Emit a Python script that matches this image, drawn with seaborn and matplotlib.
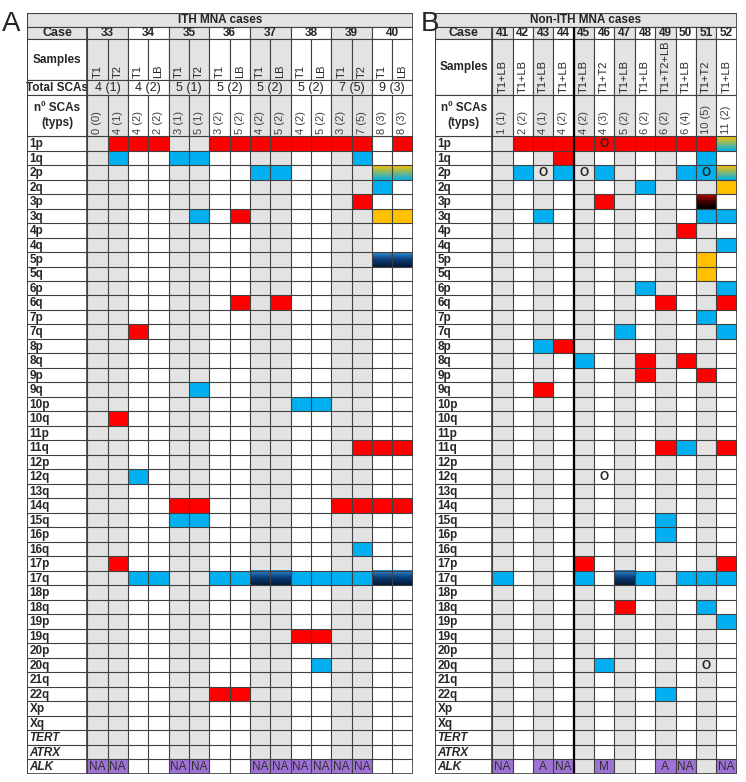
import numpy as np
import matplotlib
matplotlib.use("Agg")
import matplotlib.pyplot as plt
import seaborn as sns
from matplotlib.colors import ListedColormap, LinearSegmentedColormap
from matplotlib.patches import Rectangle

# ---- data ----
row_labels = ["1p", "1q", "2p", "2q", "3p", "3q", "4p", "4q", "5p", "5q", "6p", "6q",
              "7p", "7q", "8p", "8q", "9p", "9q", "10p", "10q", "11p", "11q", "12p", "12q",
              "13q", "14q", "15q", "16p", "16q", "17p", "17q", "18p", "18q", "19p", "19q",
              "20p", "20q", "21q", "22q", "Xp", "Xq", "TERT", "ATRX", "ALK"]
gene_rows = ["TERT", "ATRX", "ALK"]

# panel A: ITH cases, two samples per case
cases_a = ["33", "34", "35", "36", "37", "38", "39", "40"]
samples_a = ["T1", "T2", "T1", "LB", "T1", "T2", "T1", "LB",
             "T1", "LB", "T1", "LB", "T1", "T2", "T1", "LB"]
total_a = ["4 (1)", "4 (2)", "5 (1)", "5 (2)", "5 (2)", "5 (2)", "7 (5)", "9 (3)"]
nscas_a = ["0 (0)", "4 (1)", "4 (2)", "2 (2)", "3 (1)", "5 (1)", "3 (2)", "5 (2)",
           "4 (2)", "5 (2)", "4 (2)", "5 (2)", "3 (2)", "7 (5)", "8 (3)", "8 (3)"]
# R red, B blue, Y yellow, D blue->navy, G yellow->blue, K red->black
grid_a = [
    ".RRR..RRRRRRRR.R",  # 1p
    ".B..BB.......B..",  # 1q
    "........BB....GG",  # 2p
    "..............B.",  # 2q
    ".............R..",  # 3p
    ".....B.R......YY",  # 3q
    "................",  # 4p
    "................",  # 4q
    "..............DD",  # 5p
    "................",  # 5q
    "................",  # 6p
    ".......R.R......",  # 6q
    "................",  # 7p
    "..R.............",  # 7q
    "................",  # 8p
    "................",  # 8q
    "................",  # 9p
    ".....B..........",  # 9q
    "..........BB....",  # 10p
    ".R..............",  # 10q
    "................",  # 11p
    ".............RRR",  # 11q
    "................",  # 12p
    "..B.............",  # 12q
    "................",  # 13q
    "....RR......RRRR",  # 14q
    "....BB..........",  # 15q
    "................",  # 16p
    ".............B..",  # 16q
    ".R..............",  # 17p
    "..BB..BBDDBBBBDD",  # 17q
    "................",  # 18p
    "................",  # 18q
    "................",  # 19p
    "..........RR....",  # 19q
    "................",  # 20p
    "...........B....",  # 20q
    "................",  # 21q
    "......RR........",  # 22q
    "................",  # Xp
    "................",  # Xq
    "................",  # TERT
    "................",  # ATRX
]
alk_a = ["NA", "NA", "", "", "NA", "NA", "", "", "NA", "NA", "NA", "NA", "NA", "NA", "", ""]
circles_a = []

# panel B: non-ITH cases, pooled samples
cases_b = ["41", "42", "43", "44", "45", "46", "47", "48", "49", "50", "51", "52"]
samples_b = ["T1+LB", "T1+LB", "T1+LB", "T1+LB", "T1+LB", "T1+T2", "T1+LB", "T1+LB",
             "T1+T2+LB", "T1+LB", "T1+T2", "T1+LB"]
nscas_b = ["1 (1)", "2 (2)", "4 (1)", "4 (2)", "4 (2)", "4 (3)", "5 (2)", "6 (2)",
           "6 (2)", "6 (4)", "10 (5)", "11 (2)"]
grid_b = [
    ".RRRRRRRRRRG",  # 1p
    "...R......B.",  # 1q
    ".B.B.B...BBG",  # 2p
    ".......B...Y",  # 2q
    ".....R....K.",  # 3p
    "..B.......BB",  # 3q
    ".........R..",  # 4p
    "...........B",  # 4q
    "..........Y.",  # 5p
    "..........Y.",  # 5q
    ".......B...B",  # 6p
    "........R..R",  # 6q
    "..........B.",  # 7p
    "......B....B",  # 7q
    "..BR........",  # 8p
    "....B..R.R..",  # 8q
    ".......R..R.",  # 9p
    "..R.........",  # 9q
    "............",  # 10p
    "............",  # 10q
    "............",  # 11p
    "........RB.R",  # 11q
    "............",  # 12p
    "............",  # 12q
    "............",  # 13q
    "............",  # 14q
    "........B...",  # 15q
    "........B...",  # 16p
    "............",  # 16q
    "....R......R",  # 17p
    "B...B.DB.BBB",  # 17q
    "............",  # 18p
    "......R...B.",  # 18q
    "...........B",  # 19p
    "............",  # 19q
    "............",  # 20p
    ".....B......",  # 20q
    "............",  # 21q
    "........B...",  # 22q
    "............",  # Xp
    "............",  # Xq
    "............",  # TERT
    "............",  # ATRX
]
alk_b = ["NA", "", "A", "NA", "", "M", "", "", "A", "NA", "", "NA"]
circles_b = [("1p", 5), ("2p", 2), ("2p", 4), ("2p", 10), ("12q", 5), ("20q", 10)]

# ---- style ----
GREY = "#e3e3e3"
RED = "#ff0000"
BLUE = "#00b0f0"
YELLOW = "#ffc000"
PURPLE = "#9f72d6"
LINE = "#404040"
codes = {"R": 2, "B": 3, "Y": 4}
grads = {
    "D": LinearSegmentedColormap.from_list("d", ["#2d8fd5", "#0a3c78", "#021a38"]),
    "G": LinearSegmentedColormap.from_list("g", ["#ffc000", "#00b0e8"]),
    "K": LinearSegmentedColormap.from_list("k", ["#c00000", "#400000", "#000000"]),
}
cmap = ListedColormap(["white", GREY, RED, BLUE, YELLOW, PURPLE])

sns.set_theme(style="white")
plt.rcParams["font.family"] = ["Liberation Sans", "DejaVu Sans"]

# header row heights (in body-row units): title, case, samples, total, n SCAs
hdr_h = [0.97, 0.83, 2.83, 1.03, 2.83]


def draw_panel(ax, title, cases, per_case, samples, total, nscas, grid, alk, circles,
               label_w, split_after=None):
    ncol = len(grid[0])
    nrow = len(grid) + 1
    case_of_col = [c for c in range(len(cases)) for _ in range(per_case)]
    shade = np.array([c % 2 == 0 for c in case_of_col]).astype(int)

    mat = np.tile(shade, (nrow, 1))
    for i, s in enumerate(grid):
        for j, ch in enumerate(s):
            if ch in codes:
                mat[i, j] = codes[ch]
    for j, v in enumerate(alk):
        if v:
            mat[-1, j] = 5

    sns.heatmap(mat, ax=ax, cmap=cmap, vmin=-0.5, vmax=5.5, cbar=False,
                xticklabels=False, yticklabels=False, linewidths=0)

    ramp = np.linspace(0, 1, 40).reshape(-1, 1)
    for i, s in enumerate(grid):
        for j, ch in enumerate(s):
            if ch in grads:
                ax.imshow(ramp, cmap=grads[ch], extent=(j, j + 1, i + 1, i),
                          aspect="auto", interpolation="bilinear", zorder=2)

    for arm, j in circles:
        ax.text(j + 0.5, row_labels.index(arm) + 0.55, "O", ha="center", va="center",
                fontsize=8.5, fontweight="bold", zorder=5)
    for j, v in enumerate(alk):
        if v:
            ax.text(j + 0.5, nrow - 0.45, v, ha="center", va="center",
                    fontsize=8.5, color="#303030", zorder=5)

    # body lines and row labels
    ax.hlines(np.arange(nrow + 1), -label_w, ncol, color=LINE, lw=0.8, zorder=3)
    ax.vlines(np.arange(ncol + 1), 0, nrow, color=LINE, lw=0.8, zorder=3)
    for i, lab in enumerate(row_labels):
        ax.text(-label_w + 0.1, i + 0.55, lab, ha="left", va="center", fontsize=8.5,
                fontweight="bold", style="italic" if lab in gene_rows else "normal")

    # header
    top = -sum(hdr_h)
    y = np.cumsum([top] + hdr_h)
    has_total = total is not None

    def cell(x0, y0, w, h, fc, text=None, **kw):
        ax.add_patch(Rectangle((x0, y0), w, h, fc=fc, ec=LINE, lw=0.8, zorder=3))
        if text is not None:
            ax.text(x0 + w / 2, y0 + h / 2, text, ha="center", va="center", zorder=4, **kw)

    cell(-label_w, y[0], label_w + ncol, hdr_h[0], GREY, title, fontsize=8.5, fontweight="bold")
    cell(-label_w, y[1], label_w, hdr_h[1], GREY, "Case", fontsize=9, fontweight="bold")
    for c, name in enumerate(cases):
        fc = GREY if c % 2 == 0 else "white"
        cell(c * per_case, y[1], per_case, hdr_h[1], fc, name, fontsize=8.5, fontweight="bold")

    s_h = hdr_h[2] if has_total else hdr_h[2] + hdr_h[3]
    cell(-label_w, y[2], label_w, s_h, "white", "Samples", fontsize=8.5, fontweight="bold")
    for j, s in enumerate(samples):
        cell(j, y[2], 1, s_h, GREY if shade[j] else "white")
        ax.text(j + 0.5, y[2] + s_h - 0.15, s, rotation=90, ha="center", va="bottom",
                fontsize=8, zorder=4)

    if has_total:
        cell(-label_w, y[3], label_w, hdr_h[3], "white", "Total SCAs", fontsize=8.5,
             fontweight="bold")
        for c, t in enumerate(total):
            fc = GREY if c % 2 == 0 else "white"
            cell(c * per_case, y[3], per_case, hdr_h[3], fc, t, fontsize=9)

    cell(-label_w, y[4], label_w, hdr_h[4], "white", "nº SCAs\n(typs)", fontsize=8.5,
         fontweight="bold", linespacing=1.3)
    for j, t in enumerate(nscas):
        cell(j, y[4], 1, hdr_h[4], GREY if shade[j] else "white")
        ax.text(j + 0.5, -0.15, t, rotation=90, ha="center", va="bottom",
                fontsize=8, color="#404040", zorder=4)

    ax.vlines([-label_w, 0], y[1], nrow, color=LINE, lw=1.2, zorder=4)
    if split_after is not None:
        ax.vlines(split_after, y[1], nrow, color="black", lw=1.6, zorder=4)
    ax.add_patch(Rectangle((-label_w, top), label_w + ncol, nrow - top, fill=False,
                           ec=LINE, lw=1.2, zorder=5))

    ax.set_xlim(-label_w - 0.02, ncol + 0.02)
    ax.set_ylim(nrow + 0.03, top - 0.03)
    ax.axis("off")


W, H = 746, 782
fig = plt.figure(figsize=(W / 100, H / 100), dpi=100)
ax_a = fig.add_axes([27 / W, 1 - 774 / H, (413 - 27) / W, (774 - 12.7) / H])
ax_b = fig.add_axes([435 / W, 1 - 774 / H, (737 - 435) / W, (774 - 12.7) / H])

draw_panel(ax_a, "ITH MNA cases", cases_a, 2, samples_a, total_a, nscas_a,
           grid_a, alk_a, circles_a, label_w=2.94)
draw_panel(ax_b, "Non-ITH MNA cases", cases_b, 1, samples_b, None, nscas_b,
           grid_b, alk_b, circles_b, label_w=2.79, split_after=4)

fig.text(2 / W, 1 - 11 / H, "A", fontsize=20, va="top", ha="left")
fig.text(421 / W, 1 - 11 / H, "B", fontsize=20, va="top", ha="left")

fig.savefig("out.png", dpi=100)
